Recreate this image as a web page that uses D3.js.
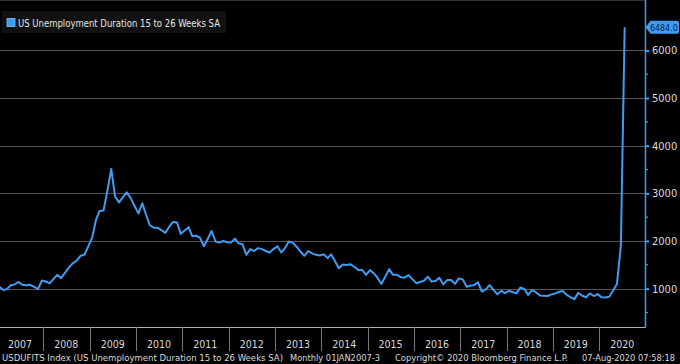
<!DOCTYPE html>
<html>
<head>
<meta charset="utf-8">
<script src="https://cdn.jsdelivr.net/npm/d3@7"></script>
<style>
  html, body { margin: 0; padding: 0; background: #000; }
  svg { display: block; }
  text { font-family: "DejaVu Sans Condensed", "DejaVu Sans", sans-serif; }
</style>
</head>
<body>
<svg id="chart" width="680" height="364"></svg>
<script>
// ---- data (monthly, Jan 2007 .. Jul 2020, thousands) ----
const seriesName = "US Unemployment Duration 15 to 26 Weeks SA";
const startYear = 2007;
const values2007 = [1040, 970, 990, 1070, 1090, 1140, 1080, 1070, 1080, 1040, 990, 1170];
const values2008 = [1150, 1110, 1200, 1290, 1220, 1330, 1440, 1530, 1590, 1690, 1710, 1880];
const values2009 = [2070, 2450, 2630, 2640, 3050, 3510, 2930, 2810, 2920, 3020, 2900, 2740];
const values2010 = [2580, 2790, 2560, 2330, 2280, 2280, 2230, 2170, 2300, 2400, 2390, 2150];
const values2011 = [2220, 2290, 2100, 2110, 2070, 1890, 2040, 2210, 1990, 1965, 2000, 1975];
const values2012 = [1970, 2050, 1950, 1930, 1710, 1830, 1790, 1850, 1830, 1790, 1760, 1830];
const values2013 = [1890, 1760, 1850, 1990, 1965, 1880, 1780, 1690, 1790, 1740, 1710, 1695];
const values2014 = [1720, 1640, 1720, 1570, 1430, 1505, 1495, 1510, 1455, 1390, 1390, 1290];
const values2015 = [1390, 1320, 1230, 1100, 1250, 1410, 1290, 1290, 1240, 1230, 1285, 1200];
const values2016 = [1115, 1140, 1165, 1250, 1150, 1160, 1230, 1090, 1180, 1180, 1100, 1215];
const values2017 = [1195, 1040, 1060, 1075, 1135, 940, 985, 1075, 975, 880, 955, 905];
const values2018 = [955, 925, 900, 1025, 995, 870, 970, 925, 855, 850, 845, 880];
const values2019 = [900, 935, 950, 870, 820, 780, 915, 850, 820, 900, 845, 885];
const values2020 = [820, 815, 830, 960, 1100, 1900, 6484];
const yearLabels = ["2007","2008","2009","2010","2011","2012","2013","2014","2015","2016","2017","2018","2019","2020"];
const yTicks = [1000, 2000, 3000, 4000, 5000, 6000];
const yMinorTicks = [500, 1500, 2500, 3500, 4500, 5500, 6500];
const lastLabel = "6484.0";
const footerParts = [
  "USDUFITS Index (US Unemployment Duration 15 to 26 Weeks SA)",
  "Monthly 01JAN2007-3",
  "Copyright\u00A9 2020 Bloomberg Finance L.P.",
  "07-Aug-2020 07:58:18"
];

const allValues = [].concat(values2007, values2008, values2009, values2010, values2011,
  values2012, values2013, values2014, values2015, values2016, values2017, values2018,
  values2019, values2020);
const data = allValues.map((v, i) => ({ date: new Date(startYear, i, 20), value: v }));

// ---- layout ----
const W = 680, H = 364;
const plotLeft = 0, plotRight = 645, plotTop = 0, plotBottom = 327;
const blue = "#3f9cf2";

const svg = d3.select("#chart");
svg.append("rect").attr("width", W).attr("height", H).attr("fill", "#000");

const x = d3.scaleTime()
  .domain([new Date(2007, 0, 1), new Date(2021, 0, 1)])
  .range([-3, 645.6]);
const y = d3.scaleLinear().domain([0, 7000]).range([336.3, 2.75]);

// clip
svg.append("clipPath").attr("id", "plotclip")
  .append("rect").attr("x", plotLeft).attr("y", plotTop)
  .attr("width", plotRight - plotLeft).attr("height", plotBottom - plotTop);

// gridlines
svg.append("g").selectAll("line").data(yTicks).join("line")
  .attr("x1", plotLeft).attr("x2", plotRight)
  .attr("y1", d => Math.round(y(d)) + 0.5).attr("y2", d => Math.round(y(d)) + 0.5)
  .attr("stroke", "#555").attr("stroke-width", 1);

// top faint border
svg.append("line").attr("x1", 0).attr("x2", plotRight).attr("y1", 0.5).attr("y2", 0.5)
  .attr("stroke", "#333").attr("stroke-width", 1);

// line
const line = d3.line().x(d => x(d.date)).y(d => y(d.value));
svg.append("path").datum(data)
  .attr("clip-path", "url(#plotclip)")
  .attr("fill", "none").attr("stroke", blue).attr("stroke-width", 2)
  .attr("stroke-linejoin", "round")
  .attr("d", line);

// bottom axis
const yearStarts = yearLabels.map(s => new Date(+s, 0, 1));
svg.append("line").attr("x1", 0).attr("x2", plotRight)
  .attr("y1", plotBottom + 0.5).attr("y2", plotBottom + 0.5)
  .attr("stroke", "#b0b0b0").attr("stroke-width", 1);
svg.append("g").selectAll("line").data(yearStarts.slice(1)).join("line")
  .attr("x1", d => Math.round(x(d)) + 0.5).attr("x2", d => Math.round(x(d)) + 0.5)
  .attr("y1", plotBottom).attr("y2", 351)
  .attr("stroke", "#777").attr("stroke-width", 1);
svg.append("g").selectAll("text").data(yearLabels).join("text")
  .attr("x", d => x(new Date(+d, 6, 1)))
  .attr("y", 347.5)
  .attr("text-anchor", "middle")
  .attr("fill", "#d8d8d8")
  .attr("font-size", 10.5)
  .text(d => d);

// right axis
const yAxis = d3.axisRight(y).tickValues(yTicks).tickSize(4).tickPadding(3).tickFormat(d3.format("d"));
const ag = svg.append("g").attr("transform", `translate(${plotRight},0)`).call(yAxis);
ag.select(".domain").remove();
ag.selectAll(".tick line").attr("stroke", blue).attr("stroke-width", 2);
ag.selectAll(".tick text").attr("fill", "#dcdcdc").attr("font-size", 11)
  .attr("font-family", "\"DejaVu Sans Condensed\", \"DejaVu Sans\", sans-serif");
svg.append("g").selectAll("line").data(yMinorTicks).join("line")
  .attr("x1", plotRight).attr("x2", plotRight + 3)
  .attr("y1", d => y(d)).attr("y2", d => y(d))
  .attr("stroke", blue).attr("stroke-width", 1.2);
svg.append("line").attr("x1", plotRight + 0.5).attr("x2", plotRight + 0.5)
  .attr("y1", 0).attr("y2", plotBottom + 1)
  .attr("stroke", blue).attr("stroke-width", 1.5);

// last value tag
const last = data[data.length - 1];
const ty = y(last.value);
const tagX = plotRight + 0.5;
const tagR = W - 1;
svg.append("path")
  .attr("d", `M${tagX},${ty} L${tagX + 5},${ty - 6.5} L${tagR - 2},${ty - 6.5} Q${tagR},${ty - 6.5} ${tagR},${ty - 4.5} L${tagR},${ty + 4.5} Q${tagR},${ty + 6.5} ${tagR - 2},${ty + 6.5} L${tagX + 5},${ty + 6.5} Z`)
  .attr("fill", blue);
svg.append("text").attr("x", tagX + 4.5).attr("y", ty + 3.5)
  .attr("fill", "#062040").attr("font-size", 8.8)
  .text(lastLabel);

// legend
const lg = svg.append("g");
lg.append("rect").attr("x", 2).attr("y", 11).attr("width", 224).attr("height", 22).attr("fill", "#111");
lg.append("rect").attr("x", 7).attr("y", 18.5).attr("width", 8).attr("height", 8).attr("fill", blue)
  .attr("stroke", "#7cc0ff").attr("stroke-width", 0.8);
lg.append("text").attr("x", 18).attr("y", 26.5).attr("fill", "#e6e6e6")
  .attr("font-size", 10.5).attr("textLength", 202).attr("lengthAdjust", "spacingAndGlyphs")
  .text(seriesName);

// footer
const footerPos = [[2, 281], [290, 90], [395, 173], [582, 93]];
svg.append("g").selectAll("text").data(footerParts).join("text")
  .attr("x", (d, i) => footerPos[i][0]).attr("y", 360.5)
  .attr("fill", "#d8d8d8").attr("font-size", 9.5)
  .attr("textLength", (d, i) => footerPos[i][1]).attr("lengthAdjust", "spacingAndGlyphs")
  .text(d => d);
</script>
</body>
</html>
